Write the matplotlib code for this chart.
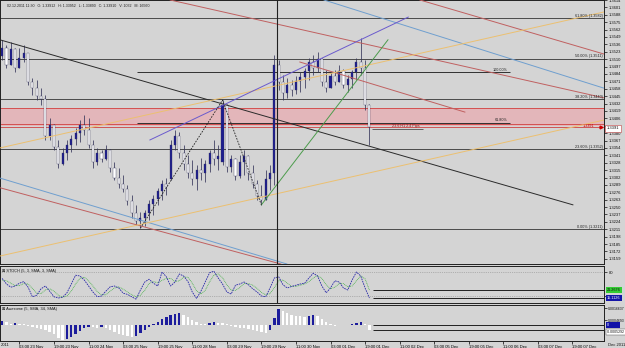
import numpy as np
import matplotlib
matplotlib.use("Agg")
import matplotlib.pyplot as plt
from matplotlib.patches import Rectangle

plt.rcParams['font.family'] = ['Liberation Sans', 'DejaVu Sans']

W, H = 625, 348
BG = '#d4d4d4'
FS = 3.0

# ---------------------------------------------------------------- data
# 2h price bars
opens = [1.3515, 1.3530, 1.3500, 1.3528, 1.3495, 1.3512, 1.3520, 1.3470, 1.3460, 1.3445,
         1.3440, 1.3375, 1.3395, 1.3355, 1.3325, 1.3345, 1.3360, 1.3370, 1.3380, 1.3395,
         1.3385, 1.3360, 1.3330, 1.3345, 1.3335, 1.3350, 1.3318, 1.3302, 1.3290, 1.3282,
         1.3260, 1.3240, 1.3225, 1.3230, 1.3240, 1.3255, 1.3265, 1.3278, 1.3290, 1.3300,
         1.3360, 1.3375, 1.3345, 1.3325, 1.3310, 1.3300, 1.3315, 1.3310, 1.3325, 1.3345,
         1.3335, 1.3330, 1.3430, 1.3320, 1.3335, 1.3305, 1.3330, 1.3340, 1.3310, 1.3290,
         1.3270, 1.3262, 1.3300, 1.3310, 1.3500, 1.3470, 1.3450, 1.3465, 1.3455, 1.3472,
         1.3478, 1.3490, 1.3505, 1.3495, 1.3510, 1.3470, 1.3460, 1.3480, 1.3470, 1.3490,
         1.3465, 1.3475, 1.3488, 1.3505, 1.3495, 1.3430]
highs = [1.3544, 1.3535, 1.3540, 1.3530, 1.3530, 1.3535, 1.3520, 1.3477, 1.3473, 1.3459,
         1.3447, 1.3407, 1.3396, 1.3368, 1.3354, 1.3368, 1.3377, 1.3389, 1.3403, 1.3412,
         1.3407, 1.3368, 1.3354, 1.3350, 1.3359, 1.3352, 1.3329, 1.3319, 1.3307, 1.3289,
         1.3271, 1.3254, 1.3241, 1.3245, 1.3263, 1.3271, 1.3284, 1.3298, 1.3301, 1.3368,
         1.3386, 1.3382, 1.3359, 1.3342, 1.3333, 1.3324, 1.3336, 1.3333, 1.3350, 1.3368,
         1.3359, 1.3438, 1.3432, 1.3342, 1.3336, 1.3342, 1.3350, 1.3342, 1.3324, 1.3298,
         1.3289, 1.3315, 1.3324, 1.3517, 1.3509, 1.3482, 1.3477, 1.3473, 1.3480, 1.3487,
         1.3495, 1.3512, 1.3517, 1.3523, 1.3512, 1.3491, 1.3487, 1.3491, 1.3500, 1.3493,
         1.3482, 1.3491, 1.3512, 1.3547, 1.3509, 1.3432]
lows = [1.3509, 1.3495, 1.3500, 1.3487, 1.3495, 1.3505, 1.3465, 1.3447, 1.3438, 1.3430,
        1.3368, 1.3368, 1.3350, 1.3319, 1.3324, 1.3333, 1.3347, 1.3359, 1.3365, 1.3377,
        1.3354, 1.3319, 1.3324, 1.3329, 1.3333, 1.3312, 1.3298, 1.3284, 1.3277, 1.3254,
        1.3231, 1.3219, 1.3213, 1.3217, 1.3227, 1.3236, 1.3254, 1.3263, 1.3271, 1.3298,
        1.3350, 1.3336, 1.3315, 1.3301, 1.3289, 1.3280, 1.3298, 1.3294, 1.3312, 1.3324,
        1.3315, 1.3324, 1.3312, 1.3312, 1.3298, 1.3301, 1.3307, 1.3298, 1.3284, 1.3263,
        1.3254, 1.3262, 1.3280, 1.3289, 1.3456, 1.3438, 1.3442, 1.3445, 1.3449, 1.3452,
        1.3459, 1.3473, 1.3482, 1.3487, 1.3463, 1.3452, 1.3459, 1.3465, 1.3470, 1.3459,
        1.3452, 1.3459, 1.3473, 1.3482, 1.3421, 1.3359]
closes = [1.3530, 1.3500, 1.3528, 1.3495, 1.3512, 1.3520, 1.3470, 1.3460, 1.3445, 1.3440,
          1.3375, 1.3395, 1.3355, 1.3325, 1.3345, 1.3360, 1.3370, 1.3380, 1.3395, 1.3385,
          1.3360, 1.3330, 1.3345, 1.3335, 1.3350, 1.3318, 1.3302, 1.3290, 1.3282, 1.3260,
          1.3240, 1.3225, 1.3230, 1.3240, 1.3255, 1.3265, 1.3278, 1.3290, 1.3285, 1.3360,
          1.3375, 1.3345, 1.3325, 1.3310, 1.3300, 1.3315, 1.3310, 1.3325, 1.3345, 1.3335,
          1.3340, 1.3430, 1.3320, 1.3335, 1.3305, 1.3330, 1.3340, 1.3310, 1.3290, 1.3270,
          1.3262, 1.3300, 1.3310, 1.3500, 1.3470, 1.3450, 1.3465, 1.3455, 1.3472, 1.3478,
          1.3490, 1.3505, 1.3495, 1.3510, 1.3470, 1.3460, 1.3480, 1.3470, 1.3490, 1.3465,
          1.3475, 1.3488, 1.3505, 1.3495, 1.3430, 1.3391]

stoch_k = [64, 50, 42, 45, 52, 56, 42, 18, 22, 38, 45, 32, 18, 15, 17, 28, 50, 72, 70, 60,
           45, 30, 18, 20, 32, 43, 45, 40, 27, 24, 18, 12, 35, 55, 62, 52, 45, 80, 68, 45,
           55, 75, 70, 56, 30, 14, 32, 55, 78, 82, 65, 50, 30, 25, 47, 50, 55, 48, 38, 30,
           20, 18, 40, 65, 68, 48, 40, 44, 47, 50, 52, 65, 77, 70, 45, 28, 40, 58, 55, 40,
           35, 60, 80, 70, 40, 15]
stoch_d = [60, 58, 52, 46, 46, 51, 50, 39, 27, 26, 35, 38, 32, 22, 17, 20, 32, 50, 64, 67,
           58, 45, 31, 23, 23, 32, 40, 43, 37, 30, 23, 18, 22, 34, 51, 56, 53, 59, 64, 64,
           56, 58, 67, 67, 52, 33, 25, 34, 55, 72, 75, 66, 48, 35, 34, 41, 51, 51, 47, 39,
           29, 23, 26, 41, 58, 60, 52, 44, 44, 47, 50, 56, 65, 71, 64, 48, 38, 42, 51, 51,
           43, 45, 58, 70, 63, 35]
# awesome oscillator, in units of 1e-4
awesome = [4, 3, 1, 2, 1, 1, -1, -2, -3, -4, -5, -7, -9, -13, -15, -14, -12, -9, -6, -3,
           -2, -2, -3, -2, -3, -5, -7, -9, -10, -11, -12, -11, -8, -5, -2, 1, 3, 6, 8, 10,
           11, 12, 10, 8, 5, 3, 1, 1, 2, 3, 2, 2, 1, -1, -2, -3, -3, -4, -5, -6,
           -7, -8, -5, 7, 16, 14, 12, 10, 9, 9, 8, 9, 10, 9, 6, 3, 1, -0.5, 0.5, 0.5,
           0.5, 1, 2, 3, 1, -5.3]

date_labels = ["03:00 23 Nov", "19:00 23 Nov", "11:00 24 Nov", "03:00 25 Nov", "19:00 25 Nov",
               "11:00 28 Nov", "03:00 29 Nov", "19:00 29 Nov", "11:00 30 Nov", "03:00 01 Dec",
               "19:00 01 Dec", "11:00 02 Dec", "03:00 05 Dec", "19:00 05 Dec", "11:00 06 Dec",
               "03:00 07 Dec", "19:00 07 Dec"]

fib_names = ["0.00%", "23.60%", "38.20%", "50.00%", "61.80%"]
fib_prices = [1.3211, 1.3352, 1.3440, 1.3511, 1.3582]
small_fib_names = ["100.00%", "61.80%"]
small_fib_prices = [1.3487, 1.3398]
zone = (1.3392, 1.3424)

# drawn trend lines: (x0, p0, x1, p1, colour)
trendlines = [
    (-0.5, 1.3544, 132.1, 1.3254, '#2a2a2a'),
    (74.5, 1.3614, 139.3, 1.3459, '#6f9fcf'),
    (-0.5, 1.3301, 65.9, 1.3150, '#6f9fcf'),
    (-0.5, 1.3284, 64.5, 1.3150, '#c06060'),
    (38.9, 1.3614, 139.3, 1.3442, '#c06060'),
    (96.7, 1.3614, 139.3, 1.3519, '#c06060'),
    (68.9, 1.3505, 107.1, 1.3417, '#c06060'),
    (-0.5, 1.3354, 139.3, 1.3593, '#ecc070'),
    (-0.5, 1.3164, 139.3, 1.3403, '#ecc070'),
    (34.2, 1.3368, 94.0, 1.3584, '#6a5acd'),
    (60.0, 1.3254, 89.3, 1.3544, '#4c9c4c'),
]

# ---------------------------------------------------------------- figure
fig = plt.figure(figsize=(W / 100, H / 100), dpi=100, facecolor=BG)


def frame(top, bottom, right=604):
    return [0, 1 - bottom / H, right / W, (bottom - top) / H]


def ftext(x, y, s, **kw):
    kw.setdefault('fontsize', FS)
    kw.setdefault('va', 'center')
    return fig.text(x / W, 1 - y / H, s, **kw)


def chain(prev, s, color):
    return ax.annotate(s, xy=(1, 0), xycoords=prev, va='bottom', fontsize=2.8,
                       color=color, annotation_clip=False)


ax = fig.add_axes(frame(0, 264), facecolor=BG)
ax_st = fig.add_axes(frame(266, 303), facecolor=BG, sharex=ax)
ax_ao = fig.add_axes(frame(305, 341), facecolor=BG, sharex=ax)

x = np.arange(len(closes))
XMAX = 139.3

for a in (ax, ax_st, ax_ao):
    for s in a.spines.values():
        s.set_color('#202020')
        s.set_linewidth(0.7)
    a.yaxis.set_ticks_position('right')
    a.tick_params(axis='y', direction='out', length=2, width=0.5,
                  labelsize=FS, pad=1.2, colors='#101010')

# main panel ------------------------------------------------------
ax.axhspan(zone[0], zone[1], color='#e3b6ba', zorder=0.5, lw=0)
ax.axhline(zone[1], color='#d04040', lw=0.6, zorder=1)
ax.axhline(1.3396, color='#d04040', lw=0.6, zorder=1)
ax.axhline(1.3390, color='#d04040', lw=0.6, zorder=1)

for p in fib_prices:
    ax.axhline(p, color='#4a4a4a', lw=0.7, zorder=1)
ax.hlines(small_fib_prices, 31.2, 117.6, color='#303030', lw=0.7, zorder=1)
ax.hlines(1.3387, 85.6, 97.4, color='#505050', lw=0.6, zorder=1)

for i in x:
    o, h, l, c = opens[i], highs[i], lows[i], closes[i]
    ax.vlines(i, l, h, color='#35355a', lw=0.55, zorder=2)
    up = c >= o
    ax.add_patch(Rectangle((i - 0.24, min(o, c)), 0.48, max(abs(c - o), 0.00005),
                           facecolor='#1c1c90' if up else 'white',
                           edgecolor='#35355a', lw=0.25, zorder=2.1))

for x0, p0, x1, p1, col in trendlines:
    ax.plot([x0, x1], [p0, p1], color=col, lw=0.7, zorder=3)
ax.plot([32, 51, 60], [lows[32], highs[51], lows[60]], color='#202020',
        lw=0.6, ls=(0, (2, 1.5)), zorder=3)
ax.axvline(63.6, color='#202020', lw=0.8, zorder=3)
ax.plot([138.6], [closes[-1]], marker='>', color='#cc0000', ms=2, clip_on=False, zorder=4)

ax.set_xlim(-0.5, XMAX)
ax.set_ylim(1.3150, 1.3614)
ticks = np.round(1.3614 - 0.0013 * np.arange(36), 4)
ax.set_yticks(ticks)
# the tick under the current-price box is hidden by it
ax.set_yticklabels(['' if abs(t - closes[-1]) < 0.0006 else f"{t:.4f}" for t in ticks])
ax.tick_params(axis='x', bottom=False, labelbottom=False)

# stochastic ------------------------------------------------------
ax_st.axhline(80, color='#8a8a8a', lw=0.5, ls=':')
ax_st.axhline(20, color='#8a8a8a', lw=0.5, ls=':')
ax_st.plot(x, stoch_d, color='#44b044', lw=0.6, ls=(0, (1, 1)))
ax_st.plot(x, stoch_k, color='#2828a8', lw=0.6, ls=(0, (2, 1)))
ax_st.hlines([stoch_d[-1], stoch_k[-1]], len(x) - 0.2, XMAX, color='#202020', lw=0.7)
ax_st.axvline(63.6, color='#202020', lw=0.8)
ax_st.set_ylim(2.5, 95)
ax_st.set_yticks([20, 80])
ax_st.set_yticklabels(['', '80'])
ax_st.tick_params(axis='x', bottom=False, labelbottom=False)

# awesome ---------------------------------------------------------
ao = np.array(awesome) * 1e-4
ao_cols = ['#1c1c9c' if i == 0 or ao[i] > ao[i - 1] else 'white' for i in range(len(ao))]
ax_ao.bar(x, ao, width=0.55, color=ao_cols, lw=0)
ax_ao.hlines([0, ao[-1]], len(x) - 0.2, XMAX, color='#202020', lw=0.7)
ax_ao.set_ylim(-0.0016, 0.0020)
ax_ao.set_yticks([0.0016637, 0.0004693])
ax_ao.set_yticklabels(['0.0016637', '0.0004693'])
ax_ao.tick_params(axis='y', labelsize=2.5, pad=0.8)

tick_pos = [4 + 8 * k for k in range(len(date_labels))]
ax_ao.set_xticks(tick_pos)
ax_ao.set_xticklabels(date_labels)
ax_ao.tick_params(axis='x', direction='out', length=2, width=0.5, labelsize=FS, pad=0.8)
for t in ax_ao.get_xticklabels():
    t.set_horizontalalignment('left')
ax_ao.set_xlim(-0.5, XMAX)

# texts -----------------------------------------------------------
ftext(7, 6, "02.12.2011 11:30   O: 1.33912   H: 1.33952   L: 1.33890   C: 1.33910   V: 1032   M: 16560",
      color='#202020', fontsize=2.6)

for name, p in zip(fib_names, fib_prices):
    y = (1.3614 - p) / 0.0001757
    ftext(603, y - 2.5, f"{name} ({p:.4f})", ha='right', color='#202020', fontsize=2.7)
for name, p in zip(small_fib_names, small_fib_prices):
    y = (1.3614 - p) / 0.0001757
    ftext(508, y - 2.5, name, ha='right', color='#202020', fontsize=2.7)
ftext(392, 126, "23.6 H1 2.4 Pips", color='#802020', fontsize=2.7)
ftext(583, 126, "1.3391", color='#cc0000', fontsize=2.7)
ftext(607, 128.5, "1.3391", color='#101010', fontsize=FS,
      bbox=dict(boxstyle='square,pad=0.4', fc='white', ec='#c04040', lw=0.4))

# indicator titles
t1 = ftext(2, 271, "\u22a0 STOCH (5, 3, SMA, 3, SMA)", color='#101010', fontsize=2.8)
t2 = chain(t1, " (Stoc: 15.1126,", '#2020b0')
chain(t2, " Sig: 21.2676)", '#30a030')

a1 = ftext(2, 309, "\u22a0 Awesome (5, SMA, 34, SMA)", color='#101010', fontsize=2.8)
a2 = chain(a1, " (Zero: 0, Positive: 0.0007673,", '#2020b0')
chain(a2, " Negative)", 'white')

ftext(607, 290, "21.2676", color='#101010', fontsize=2.7,
      bbox=dict(boxstyle='square,pad=0.3', fc='#33cc33', ec='none'))
ftext(607, 298, "15.1126", color='white', fontsize=2.7,
      bbox=dict(boxstyle='square,pad=0.3', fc='#1414a8', ec='none'))
ftext(607, 325, "0          ", color='white', fontsize=2.7,
      bbox=dict(boxstyle='square,pad=0.3', fc='#1414a8', ec='none'))
ftext(607, 332, "-0.0005292", color='#101010', fontsize=2.5,
      bbox=dict(boxstyle='square,pad=0.3', fc='white', ec='#404040', lw=0.3))

ftext(1, 345, "2011", color='#101010')
ftext(608, 345, "Dec 2011", color='#101010')

fig.savefig("out.png", dpi=100, facecolor=BG)
